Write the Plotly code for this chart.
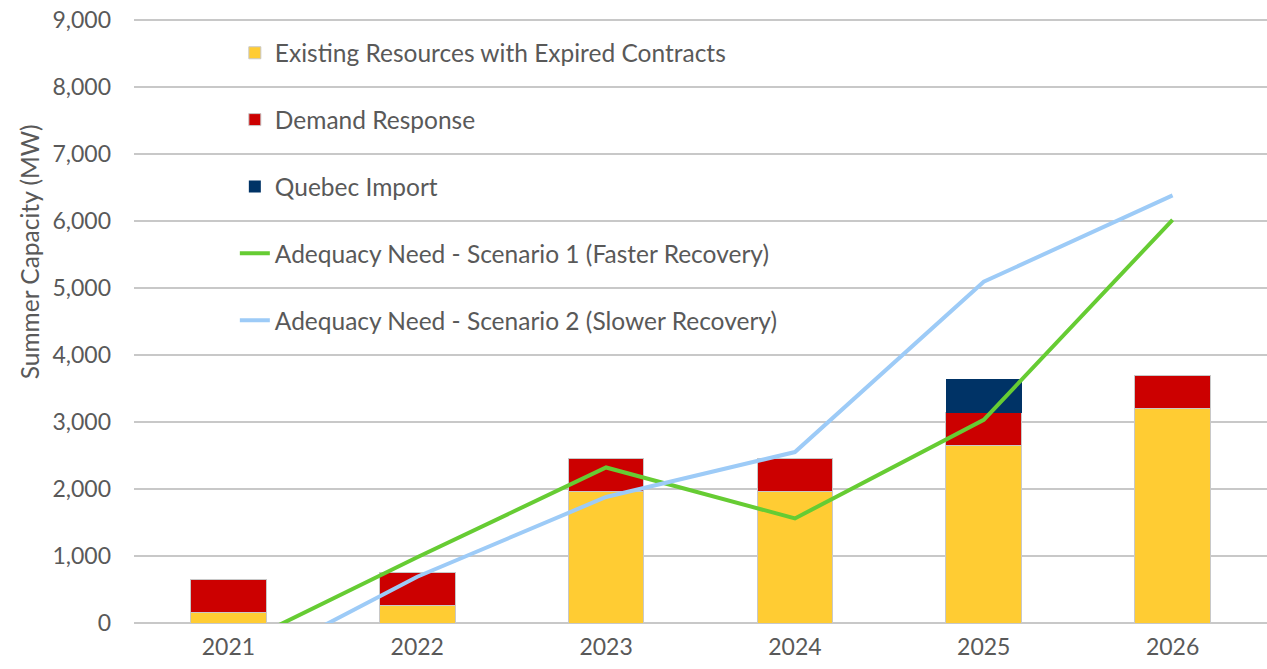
import plotly.graph_objects as go

# category years
years = ['2021', '2022', '2023', '2024', '2025', '2026']

# stacked bar components (MW)
existing_expired = [160, 260, 1960, 1960, 2645, 3200]
demand_response = [490, 490, 490, 490, 490, 490]
quebec_import = [0, 0, 0, 0, 500, 0]

# adequacy need lines (MW) - 2021 values are below zero and get clipped
need_s1 = [-400, 980, 2320, 1560, 3030, 6015]
need_s2 = [-780, 690, 1880, 2550, 5090, 6380]

y_ticks = [0, 1000, 2000, 3000, 4000, 5000, 6000, 7000, 8000, 9000]

font_fam = 'Lato, "Open Sans", sans-serif'
grey_txt = '#595959'
outline = dict(color='#C8C8C8', width=1)

fig = go.Figure()
fig.add_trace(go.Bar(x=years, y=existing_expired, name='Existing Resources with Expired Contracts',
                     marker=dict(color='#FFCC33', line=outline), legendgroup='a'))
fig.add_trace(go.Bar(x=years, y=demand_response, name='Demand Response',
                     marker=dict(color='#CC0000', line=outline), legendgroup='b'))
fig.add_trace(go.Bar(x=years, y=quebec_import, name='Quebec Import',
                     marker=dict(color='#003366', line=dict(width=0)), legendgroup='c'))
fig.add_trace(go.Scatter(x=years, y=need_s1, mode='lines',
                         name='Adequacy Need - Scenario 1 (Faster Recovery)',
                         line=dict(color='#66CC33', width=4), legendgroup='d'))
fig.add_trace(go.Scatter(x=years, y=need_s2, mode='lines',
                         name='Adequacy Need - Scenario 2 (Slower Recovery)',
                         line=dict(color='#9DCBF7', width=4), legendgroup='e'))

fig.update_layout(
    width=1267, height=669,
    margin=dict(l=134, r=0, t=17, b=46),
    barmode='stack', bargap=0.6,
    plot_bgcolor='white', paper_bgcolor='white',
    font=dict(family=font_fam, size=23, color=grey_txt),
    legend=dict(x=0.089, y=0.978, xanchor='left', yanchor='top',
                traceorder='grouped', tracegroupgap=32,
                bgcolor='rgba(0,0,0,0)', font=dict(size=24.5, color=grey_txt)),
    xaxis=dict(showgrid=False, showline=False, ticks='', ticklabelstandoff=8,
               tickfont=dict(size=23, color=grey_txt)),
    # a little headroom above 9,000 so its gridline is not dropped at the edge
    yaxis=dict(range=[0, 9040], tickvals=y_ticks, tickformat=',d',
               showgrid=True, gridcolor='#C8C8C8', gridwidth=2,
               zeroline=True, zerolinecolor='#C8C8C8', zerolinewidth=2,
               showline=False, ticks='', ticklabelstandoff=22,
               tickfont=dict(size=23, color=grey_txt)),
    annotations=[dict(text='Summer Capacity (MW)', textangle=-90, showarrow=False,
                      xref='paper', yref='paper', x=-0.092, y=0.613,
                      xanchor='center', yanchor='middle',
                      font=dict(size=24.5, color=grey_txt))],
)

# drop the default 8px body margin so the figure sits flush in the window
fig.write_html('out.html', config={'displayModeBar': False},
               post_script="document.body.style.margin='0';")
